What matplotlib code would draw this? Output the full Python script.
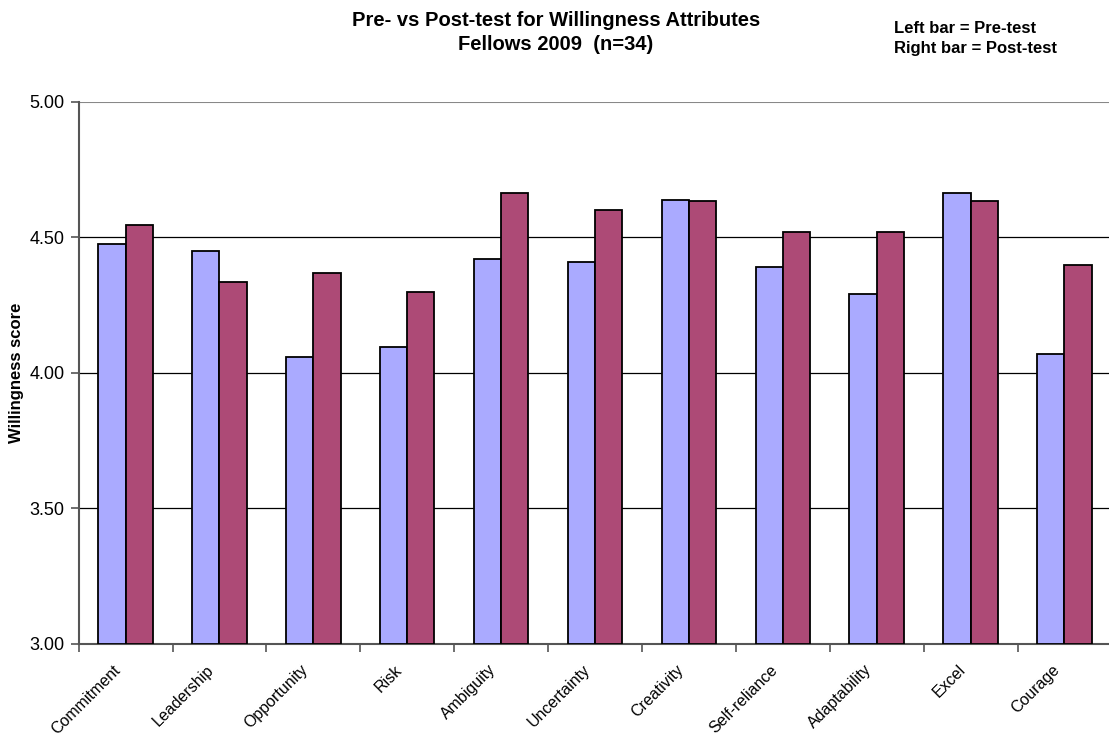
import numpy as np
import matplotlib
matplotlib.use('Agg')
import matplotlib.pyplot as plt
from matplotlib.transforms import ScaledTranslation

plt.rcParams.update({'font.family': ['Liberation Sans', 'DejaVu Sans'],
                     'font.size': 12})

categories = ['Commitment', 'Leadership', 'Opportunity', 'Risk', 'Ambiguity',
              'Uncertainty', 'Creativity', 'Self-reliance', 'Adaptability',
              'Excel', 'Courage']
pre_test = [4.475, 4.45, 4.06, 4.095, 4.42, 4.41, 4.64, 4.39, 4.29, 4.665, 4.07]
post_test = [4.545, 4.335, 4.37, 4.30, 4.665, 4.60, 4.633, 4.52, 4.52, 4.633, 4.40]
yticks = [3.0, 3.5, 4.0, 4.5, 5.0]

fig = plt.figure(figsize=(11.09, 7.38), dpi=100)
ax = fig.add_axes([0.0709, 0.1274, 0.9313, 0.7344])

x = np.arange(len(categories))
w = 0.29
ax.bar(x - w/2, [v - 3 for v in pre_test], w, bottom=3, color='#aaaaff',
       edgecolor='black', linewidth=1.3, zorder=3)
ax.bar(x + w/2, [v - 3 for v in post_test], w, bottom=3, color='#ad4a76',
       edgecolor='black', linewidth=1.3, zorder=3)

ax.set_xlim(-0.5, len(categories) - 0.5)
ax.set_ylim(3, 5)
ax.set_yticks(yticks)
ax.set_yticklabels(['%.2f' % t for t in yticks], fontsize=13)
for t in yticks[1:-1]:
    ax.axhline(t, color='black', linewidth=0.9, zorder=1)
ax.axhline(5, color='#888888', linewidth=1.5, zorder=1)

ax.set_xticks(x)
ax.set_xticks(np.arange(-0.5, len(categories)), minor=True)
ax.tick_params(axis='x', which='major', length=0, pad=8)
ax.tick_params(axis='x', which='minor', length=6, color='#555555', width=1.2)
ax.tick_params(axis='y', length=6, color='#555555', width=1.2, pad=4)
ax.set_xticklabels(categories, rotation=45, ha='right', rotation_mode='anchor',
                   fontsize=11.5)
# push the slanted labels down-left, like the original
shift = ScaledTranslation(-0.13, -0.07, fig.dpi_scale_trans)
for lab in ax.get_xticklabels():
    lab.set_transform(lab.get_transform() + shift)

for s in ['top', 'right']:
    ax.spines[s].set_visible(False)
for s in ['left', 'bottom']:
    ax.spines[s].set_color('#555555')
    ax.spines[s].set_linewidth(1.5)

fig.text(0.0153, 0.4946, 'Willingness score', rotation=90, ha='center', va='center',
         fontsize=12, fontweight='bold')

fig.text(0.5014, 0.985, 'Pre- vs Post-test for Willingness Attributes\nFellows 2009  (n=34)',
         ha='center', va='top', fontsize=14.5, fontweight='bold', linespacing=1.33)
fig.text(0.806, 0.972, 'Left bar = Pre-test\nRight bar = Post-test',
         ha='left', va='top', fontsize=12, fontweight='bold', linespacing=1.42)

fig.savefig('out.png', dpi=100)
